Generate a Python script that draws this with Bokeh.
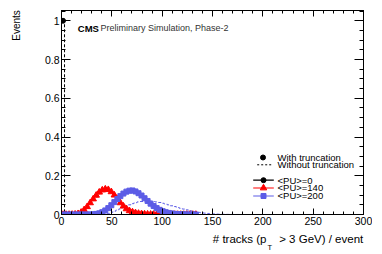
import math
from bokeh.plotting import figure
from bokeh.models import (LinearAxis, SingleIntervalTicker, FixedTicker, Label, Range1d,
                          CustomLabelingPolicy)
from bokeh.embed import file_html
from bokeh.resources import INLINE

# ---------------- data ----------------
bin_width = 3.0  # tracks per bin

# "With truncation" (markers)
pu0_trunc = [1.0, 0.0]
pu140_trunc = [0, 0, 0, 0.0005, 0.0015, 0.004, 0.011, 0.024, 0.040, 0.060,
               0.080, 0.099, 0.115, 0.126, 0.131, 0.128, 0.117, 0.100, 0.080, 0.060,
               0.043, 0.029, 0.019, 0.013, 0.0085, 0.0055, 0.0035, 0.0022, 0.0014, 0.0009,
               0.0006, 0.0004, 0.0003, 0.0002, 0.0001, 0.0001, 0, 0, 0, 0,
               0, 0, 0, 0, 0]
pu200_trunc = [0, 0, 0, 0, 0, 0, 0, 0, 0, 0.0005,
               0.001, 0.003, 0.006, 0.012, 0.021, 0.033, 0.048, 0.064, 0.080, 0.095,
               0.108, 0.118, 0.123, 0.124, 0.119, 0.110, 0.098, 0.084, 0.070, 0.056,
               0.044, 0.033, 0.024, 0.017, 0.012, 0.008, 0.0055, 0.0035, 0.0022, 0.0014,
               0.0009, 0.0005, 0.0003, 0.0002, 0.0001]

# "Without truncation" (dashed histograms), bins 0..300
pu0_full = [1.0] + [0.0] * 99
pu140_full = [0, 0, 0, 0.0004, 0.0012, 0.0035, 0.009, 0.020, 0.035, 0.054,
              0.073, 0.091, 0.107, 0.118, 0.124, 0.124, 0.117, 0.104, 0.087, 0.069,
              0.052, 0.038, 0.027, 0.019, 0.013, 0.009, 0.006, 0.004, 0.0027, 0.0018,
              0.0012, 0.0008, 0.0005, 0.0003, 0.0002, 0.0001] + [0.0] * 64
pu200_full = [0, 0, 0, 0, 0, 0, 0, 0, 0, 0,
              0, 0.0003, 0.0006, 0.0012, 0.003, 0.006, 0.011, 0.017, 0.023, 0.029,
              0.036, 0.043, 0.050, 0.056, 0.061, 0.065, 0.067, 0.069, 0.069, 0.069,
              0.067, 0.065, 0.062, 0.058, 0.054, 0.050, 0.045, 0.041, 0.036, 0.032,
              0.028, 0.024, 0.020, 0.017, 0.014, 0.011, 0.009, 0.007, 0.0055, 0.004,
              0.003, 0.002, 0.0015, 0.001, 0.0007, 0.0005, 0.0003, 0.0002, 0.0001] + [0.0] * 41

x_ticks_major = 50
y_ticks_major = 0.2

series_labels = ["<PU>=0", "<PU>=140", "<PU>=200"]
series_colors = ["black", "#ff0000", "#5c5ce6"]
series_markers = ["circle", "triangle", "square"]
series_sizes = [5, 6.5, 5]

y_title = "Events"
x_title_parts = ["# tracks (p", "T", "> 3 GeV) / event"]


def centers(vals):
    return [bin_width * (i + 0.5) for i in range(len(vals))]


FONT = "Liberation Sans"

p = figure(width=372, height=254, x_range=Range1d(0, 300), y_range=Range1d(0, 1.053),
           output_backend="svg", toolbar_location=None,
           min_border_left=61, min_border_right=9, min_border_top=10, min_border_bottom=40)
p.grid.visible = False
p.outline_line_color = "black"
p.background_fill_color = "white"
p.border_fill_color = "white"

bottom = p.below[0]
left = p.left[0]
top = LinearAxis()
right = LinearAxis()
p.add_layout(top, "above")
p.add_layout(right, "right")

for ax in [bottom, top]:
    ax.ticker = SingleIntervalTicker(interval=x_ticks_major, num_minor_ticks=5)
    ax.major_tick_in = 6
    ax.major_tick_out = 0
    ax.minor_tick_in = 3
    ax.minor_tick_out = 0
for ax in [left, right]:
    ax.ticker = SingleIntervalTicker(interval=y_ticks_major, num_minor_ticks=4)
    ax.major_tick_in = 9
    ax.major_tick_out = 0
    ax.minor_tick_in = 4
    ax.minor_tick_out = 0
for ax in [bottom, top, left, right]:
    ax.axis_line_color = "black"
    ax.major_tick_line_color = "black"
    ax.minor_tick_line_color = "black"
    ax.major_label_text_font = FONT
    ax.major_label_text_font_size = "10.5px"
    ax.major_label_text_color = "black"
    ax.major_label_standoff = 2
# top / right axes: ticks only, no labels
for ax in [top, right]:
    ax.major_label_text_font_size = "0px"
    ax.major_label_standoff = 0
    ax.major_label_policy = CustomLabelingPolicy(code="for (const i of indices) indices.unset(i)")
left.major_label_overrides = {0: "0", 1: "1"}


def label_axis(ticks, texts, font_size, standoff):
    ax = LinearAxis(ticker=FixedTicker(ticks=ticks, minor_ticks=[]),
                    major_label_overrides=dict(zip(ticks, texts)))
    ax.axis_line_color = None
    ax.major_tick_line_color = None
    ax.minor_tick_line_color = None
    ax.major_tick_in = 0
    ax.major_tick_out = 0
    ax.major_label_text_font = FONT
    ax.major_label_text_font_size = font_size
    ax.major_label_text_color = "black"
    ax.major_label_standoff = standoff
    return ax


# y title: label-only axis beside the left axis
ytitle_axis = label_axis([0.976], [y_title], "10px", 19)
ytitle_axis.major_label_orientation = "vertical"
p.add_layout(ytitle_axis, "left")

# x title: two label-only axes stacked under the bottom axis
p.add_layout(label_axis([177, 258], [x_title_parts[0], x_title_parts[2]], "11.5px", 5), "below")
p.add_layout(label_axis([207], [x_title_parts[1]], "7.5px", -5), "below")

# dashed "without truncation" histograms
for vals, col in zip([pu0_full, pu140_full, pu200_full], series_colors):
    p.step(x=centers(vals), y=vals, mode="center", line_color=col, line_width=1, line_dash="3 2")

# markers "with truncation"
for vals, col, mk, sz in zip([pu0_trunc, pu140_trunc, pu200_trunc], series_colors, series_markers, series_sizes):
    p.scatter(x=centers(vals), y=vals, marker=mk, size=sz, fill_color=col, line_color=col)

# -------- layout helpers (pixel -> data) for texts & legend --------
def fx(px):
    return (px - 61) * 300 / 302.0

def fy(py):
    return (214 - py) / 193.7

# CMS label
p.add_layout(Label(x=fx(77.3), y=fy(28), text="CMS", text_font=FONT, text_font_style="bold",
                   text_font_size="9.5px", text_baseline="middle", text_color="black"))
p.add_layout(Label(x=fx(100), y=fy(28), text="Preliminary Simulation, Phase-2", text_font=FONT,
                   text_font_size="9px", text_baseline="middle", text_color="#333333"))

# legend (drawn manually)
leg_font = "9.5px"
text_x = fx(277)
p.scatter(x=[fx(262.5)], y=[fy(157)], marker="circle", size=5, fill_color="black", line_color="black")
p.add_layout(Label(x=text_x, y=fy(157), text="With truncation", text_font=FONT, text_font_size=leg_font,
                   text_baseline="middle", text_color="black"))
p.line(x=[fx(256.7), fx(270.7)], y=[fy(164.3), fy(164.3)], line_color="black", line_dash="2 2")
p.add_layout(Label(x=text_x, y=fy(164.3), text="Without truncation", text_font=FONT, text_font_size=leg_font,
                   text_baseline="middle", text_color="black"))
rows_py = [179.7, 187.5, 195.5]
for lab, col, mk, sz, py in zip(series_labels, series_colors, series_markers, series_sizes, rows_py):
    p.line(x=[fx(252.7), fx(273.3)], y=[fy(py), fy(py)], line_color=col, line_width=1.2)
    p.scatter(x=[fx(263)], y=[fy(py)], marker=mk, size=sz, fill_color=col, line_color=col)
    p.add_layout(Label(x=text_x, y=fy(py), text=lab, text_font=FONT, text_font_size=leg_font,
                       text_baseline="middle", text_color="black"))

open("out.html", "w").write(file_html(p, INLINE))
